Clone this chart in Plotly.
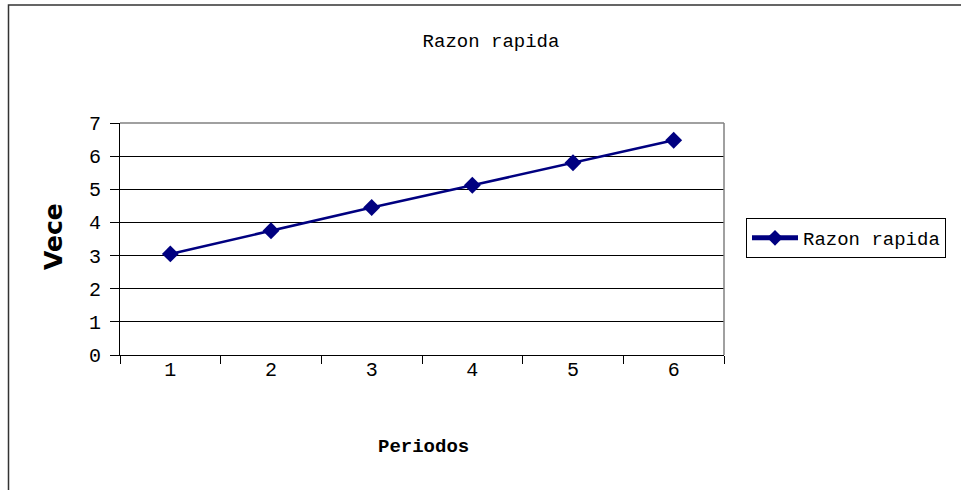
import plotly.graph_objects as go

# Data
periodos = [1, 2, 3, 4, 5, 6]
razon_rapida = [3.05, 3.75, 4.45, 5.12, 5.80, 6.48]
y_ticks = [0, 1, 2, 3, 4, 5, 6, 7]

W, H = 961, 490
L, R, T, B = 120, 237, 123, 135
PW, PH = W - L - R, H - T - B


def px_x(x):
    return (x - L) / PW


def px_y(y):
    return (H - B - y) / PH


NAVY = "#000080"
MONO = "Liberation Mono, Courier New, monospace"

fig = go.Figure()
fig.add_trace(go.Scatter(
    x=periodos,
    y=razon_rapida,
    mode="lines+markers",
    name="Razon rapida",
    line=dict(color=NAVY, width=2.5),
    marker=dict(symbol="diamond", size=13, color=NAVY),
))

fig.update_layout(
    width=W,
    height=H,
    margin=dict(l=L, r=R, t=T, b=B, autoexpand=False),
    paper_bgcolor="white",
    plot_bgcolor="white",
    title=dict(
        text="Razon rapida",
        x=491 / W, y=1 - 40 / H,
        xref="container", yref="container",
        xanchor="center", yanchor="middle",
        font=dict(family=MONO, size=19, color="black"),
    ),
    showlegend=True,
    legend=dict(
        x=px_x(746), y=px_y(218),
        xanchor="left", yanchor="top",
        bordercolor="black", borderwidth=1,
        bgcolor="white",
        font=dict(family=MONO, size=19, color="black"),
        itemsizing="constant",
        itemwidth=46,
    ),
    xaxis=dict(
        range=[0.5, 6.5],
        tickvals=periodos,
        ticktext=[str(p) for p in periodos],
        ticks="",
        ticklabelstandoff=-4,
        showgrid=False,
        zeroline=False,
        showline=True,
        linecolor="black",
        linewidth=1,
        tickfont=dict(family=MONO, size=20, color="black"),
        minor=dict(
            tickvals=[0.5, 1.5, 2.5, 3.5, 4.5, 5.5, 6.5],
            ticks="outside",
            ticklen=8,
            tickcolor="black",
            tickwidth=1,
            showgrid=False,
        ),
    ),
    yaxis=dict(
        range=[0, 7],
        tickvals=y_ticks,
        ticks="outside",
        ticklen=9,
        ticklabelstandoff=5,
        tickcolor="black",
        showgrid=True,
        gridcolor="black",
        gridwidth=1,
        zeroline=False,
        showline=True,
        linecolor="black",
        linewidth=1,
        tickfont=dict(family=MONO, size=20, color="black"),
    ),
    shapes=[
        # gray top and right edges of the plot area
        dict(type="line", xref="paper", yref="paper", x0=0, x1=1, y0=1, y1=1,
             line=dict(color="#808080", width=1.5), layer="above"),
        dict(type="line", xref="paper", yref="paper", x0=1, x1=1, y0=0, y1=1,
             line=dict(color="#808080", width=1.5), layer="above"),
        # chart area frame
        dict(type="rect", xref="paper", yref="paper",
             x0=px_x(8.5), x1=px_x(990), y0=px_y(510), y1=px_y(5),
             line=dict(color="#333333", width=1.5), layer="below"),
    ],
    annotations=[
        dict(text="<b>Periodos</b>", xref="paper", yref="paper",
             x=px_x(423), y=px_y(447), xanchor="center", yanchor="middle",
             showarrow=False, font=dict(family=MONO, size=19, color="black")),
        dict(text="<b>Vece</b>", xref="paper", yref="paper",
             x=px_x(53), y=px_y(237), xanchor="center", yanchor="middle",
             textangle=-90, showarrow=False,
             font=dict(family="DejaVu Sans, sans-serif", size=25, color="black")),
    ],
)

fig.write_html("out.html")
